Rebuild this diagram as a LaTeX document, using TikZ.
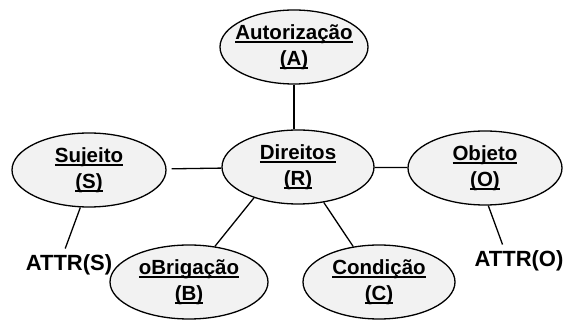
\documentclass[tikz,border=0pt]{standalone}
\usepackage{fontspec}
\setmainfont{Liberation Sans}
\usetikzlibrary{shapes.geometric,positioning}
\tikzset{every node/.style={font=\bfseries\fontsize{20.5}{26}\selectfont}}
\tikzset{papel/.style={ellipse,draw,fill=black!5,line width=1.3pt,minimum width=152pt,minimum height=74pt,inner sep=-14pt,align=center}}
\tikzset{atributo/.style={inner sep=6pt,font=\bfseries\fontsize{22}{26}\selectfont}}
\tikzset{ligacao/.style={line width=1.3pt}}
\newcommand{\ulabel}[1]{\setbox0=\hbox{#1}\rlap{\rule[-3.5pt]{\wd0}{1.4pt}}\box0}

\begin{document}
\begin{tikzpicture}[x=1pt,y=-1pt]
\useasboundingbox (0,0) rectangle (563,320);

\node[papel] (direitos) at (298,167) {\ulabel{Direitos}\\\ulabel{(R)}};
\node[papel,on grid,above left=120pt and 4pt of direitos,minimum width=148pt] (autorizacao) {\ulabel{Autorização}\\\ulabel{(A)}};
\node[papel,on grid,below left=3pt and 209pt of direitos,minimum width=154pt] (sujeito) {\ulabel{Sujeito}\\\ulabel{(S)}};
\node[papel,on grid,below right=1pt and 187pt of direitos,minimum width=154pt] (objeto) {\ulabel{Objeto}\\\ulabel{(O)}};
\node[papel,on grid,below left=115pt and 109pt of direitos,minimum width=158pt] (obrigacao) {\ulabel{oBrigação}\\\ulabel{(B)}};
\node[papel,on grid,below right=115pt and 81pt of direitos] (condicao) {\ulabel{Condição}\\\ulabel{(C)}};
\node[atributo,on grid,below left=95pt and 20pt of sujeito] (attrs) {ATTR(S)};
\node[atributo,on grid,below right=93pt and 34pt of objeto] (attro) {ATTR(O)};

\draw[ligacao] (autorizacao.south) -- (autorizacao.south |- direitos.north);
\draw[ligacao,shorten <=5pt] (sujeito) -- (direitos);
\draw[ligacao] (direitos) -- (objeto);
\draw[ligacao] (direitos.215) -- (obrigacao.54);
\draw[ligacao] (direitos.-54) -- (condicao.126);
\draw[ligacao] (sujeito.257) -- (attrs.103);
\draw[ligacao] (objeto.-85) -- (attro.135);

\end{tikzpicture}
\end{document}
